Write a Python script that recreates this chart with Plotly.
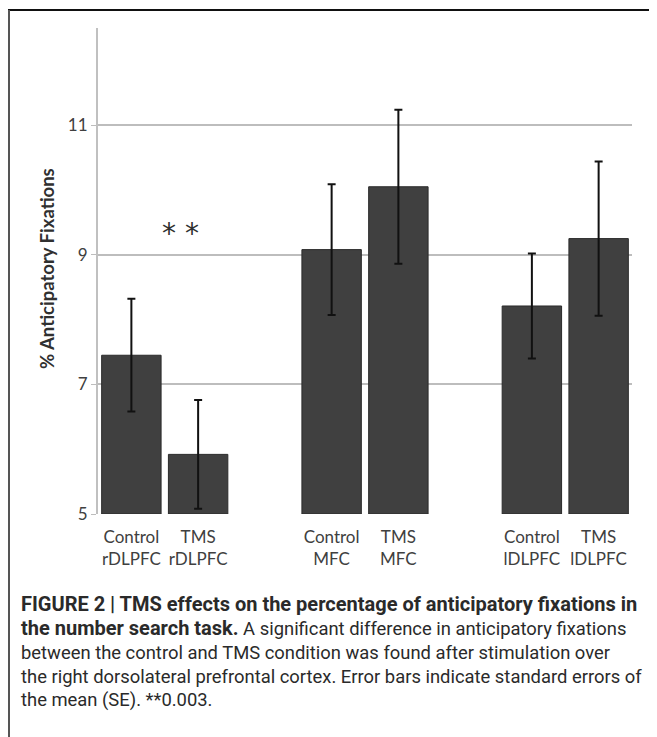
import plotly.graph_objects as go

# ---- data ----
categories = ["Control<br>rDLPFC", "TMS<br>rDLPFC", "Control<br>MFC", "TMS<br>MFC",
              "Control<br>lDLPFC", "TMS<br>lDLPFC"]
slots = [0, 1, 3, 4, 6, 7]          # category slots (empty slots 2 and 5 separate groups)
means = [7.45, 5.92, 9.08, 10.05, 8.21, 9.25]
se = [0.87, 0.84, 1.01, 1.19, 0.81, 1.19]
y_ticks = [5, 7, 9, 11]
y_title = "% Anticipatory Fixations"
sig_label = "* *"
caption_lines = [
    "<b>FIGURE 2 | TMS effects on the percentage of anticipatory fixations in</b>",
    "<b>the number search task.</b> A significant difference in anticipatory fixations",
    "between the control and TMS condition was found after stimulation over",
    "the right dorsolateral prefrontal cortex. Error bars indicate standard errors of",
    "the mean (SE). **0.003.",
]

# page body has an 8px margin: work in page coordinates and shift
OFF = 8
PW, PH = 657, 737
W, H = PW - OFF, PH - OFF
L, R, T, B = 98, 25, 28, 223          # page coordinates of plot area edges
ml, mt = L - OFF, T - OFF
pw = (PW - R) - L
ph = (PH - B) - T
mb = H - mt - ph


def px(x):
    return (x - L) / pw


def py(y):
    return ((PH - B) - y) / ph


fig = go.Figure()
fig.add_trace(go.Bar(
    x=slots, y=[m - 5 for m in means], base=5,
    marker=dict(color="#404040", line=dict(color="#2a2a2a", width=1)),
    width=0.89,
    error_y=dict(type="data", array=se, color="#111111", thickness=2, width=4),
    hoverinfo="skip",
))

fig.update_layout(
    width=W, height=H,
    margin=dict(l=ml, r=W - ml - pw, t=mt, b=mb),
    paper_bgcolor="white", plot_bgcolor="white",
    showlegend=False,
    font=dict(family="Lato, Open Sans, sans-serif", color="#404040"),
    xaxis=dict(range=[-0.5, 7.5], tickmode="array", tickvals=slots, ticktext=categories,
               showgrid=False, zeroline=False, showline=False, ticks="",
               ticklabelstandoff=11,
               tickfont=dict(size=17, color="#404040")),
    yaxis=dict(range=[5, 12.5], tickmode="array", tickvals=y_ticks,
               showgrid=True, gridcolor="#bdbdbd", gridwidth=1.5,
               zeroline=False, showline=True, linecolor="#c0c0c0", linewidth=2,
               ticks="outside", ticklen=5, tickcolor="#bdbdbd",
               ticklabelstandoff=0,
               tickfont=dict(size=17, color="#404040")),
)

annotations = [
    dict(text="<b>" + y_title + "</b>", textangle=-90, xref="paper", yref="paper",
         x=px(47), y=py(269), xanchor="center", yanchor="middle", showarrow=False,
         font=dict(size=18.5, color="#303030")),
    dict(text=sig_label, xref="paper", yref="paper", x=px(180), y=py(233),
         xanchor="center", yanchor="middle",
         showarrow=False, font=dict(family="DejaVu Sans", size=28, color="#303030")),
]
for i, line in enumerate(caption_lines):
    line = line.replace("<b>", "<b><span style='font-size:20px'>").replace("</b>", "</span></b>")
    annotations.append(dict(
        text=line, xref="paper", yref="paper", x=px(19), y=py(604 + 24 * i),
        xanchor="left", yanchor="middle", showarrow=False,
        font=dict(family="Roboto, sans-serif", size=18.4, color="#2a2a2a")))
fig.update_layout(annotations=annotations)

fig.add_shape(type="line", xref="paper", yref="paper", x0=px(8), x1=px(PW + 5),
              y0=py(10), y1=py(10), line=dict(color="#111111", width=2))
fig.add_shape(type="line", xref="paper", yref="paper", x0=px(9), x1=px(9),
              y0=py(10), y1=py(PH + 5), line=dict(color="#555555", width=2))

fig.write_html("out.html")
